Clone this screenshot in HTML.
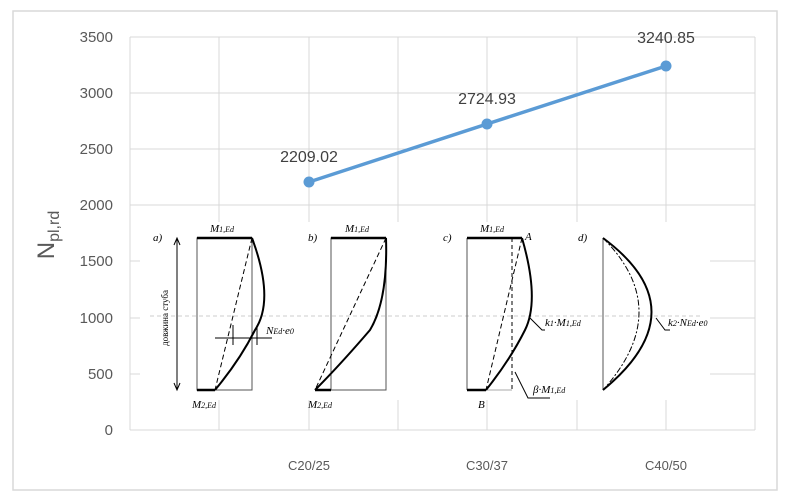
<!DOCTYPE html>
<html><head><meta charset="utf-8"><style>
body{margin:0;background:#fff;}
svg{display:block;font-family:"Liberation Sans",sans-serif;}
.i{font-family:"Liberation Serif",serif;font-style:italic;font-size:11px;fill:#000}
</style></head><body>
<svg width="800" height="500" viewBox="0 0 800 500">
<rect x="13" y="11" width="764" height="479" fill="#fff" stroke="#d9d9d9" stroke-width="1.5"/>
<g stroke="#d9d9d9" stroke-width="1">
<line x1="130" y1="37" x2="755" y2="37"/><line x1="130" y1="93" x2="755" y2="93"/>
<line x1="130" y1="149" x2="755" y2="149"/><line x1="130" y1="205" x2="755" y2="205"/>
<line x1="130" y1="261" x2="755" y2="261"/><line x1="130" y1="318" x2="755" y2="318"/>
<line x1="130" y1="374" x2="755" y2="374"/><line x1="130" y1="430" x2="755" y2="430"/>
<line x1="130" y1="37" x2="130" y2="430"/><line x1="219" y1="37" x2="219" y2="430"/>
<line x1="309" y1="37" x2="309" y2="430"/><line x1="398" y1="37" x2="398" y2="430"/>
<line x1="487" y1="37" x2="487" y2="430"/><line x1="577" y1="37" x2="577" y2="430"/>
<line x1="666" y1="37" x2="666" y2="430"/><line x1="755" y1="37" x2="755" y2="430"/>
</g>
<!-- diagram overlay -->
<rect x="140" y="222" width="570" height="178" fill="#fff"/>
<line x1="150" y1="316" x2="700" y2="316" stroke="#ccc" stroke-dasharray="4,3"/>
<g fill="none" stroke="#000">
<!-- a -->
<rect x="197" y="238" width="55" height="152" stroke-width="1" stroke="#555"/>
<line x1="197" y1="238" x2="252" y2="238" stroke-width="2.5"/>
<line x1="197" y1="390" x2="215" y2="390" stroke-width="2.5"/>
<path d="M252 238 Q275 300 255 330 Q240 360 215 390" stroke-width="2"/>
<line x1="252" y1="238" x2="215" y2="390" stroke-dasharray="5,3"/>
<line x1="177" y1="238" x2="177" y2="390"/>
<path d="M174 245 L177 238 L180 245 M174 383 L177 390 L180 383"/>
<line x1="215" y1="338" x2="272" y2="338"/>
<line x1="233" y1="325" x2="233" y2="345"/><line x1="257" y1="325" x2="257" y2="345"/>
<!-- b -->
<rect x="331" y="238" width="55" height="152" stroke-width="1" stroke="#555"/>
<line x1="331" y1="238" x2="386" y2="238" stroke-width="2.5"/>
<line x1="315" y1="390" x2="331" y2="390" stroke-width="2.5"/>
<path d="M386 238 Q388 300 370 330 Q340 365 315 390" stroke-width="2"/>
<line x1="386" y1="238" x2="315" y2="390" stroke-dasharray="5,3"/>
<!-- c -->
<line x1="467" y1="238" x2="467" y2="390" stroke="#555"/>
<line x1="467" y1="238" x2="522" y2="238" stroke-width="2.5"/>
<line x1="467" y1="390" x2="486" y2="390" stroke-width="2.5"/>
<line x1="486" y1="390" x2="512" y2="390" stroke="#aaa"/>
<line x1="512" y1="238" x2="512" y2="390" stroke-dasharray="4,3"/>
<path d="M522 238 Q540 300 525 330 Q510 360 486 390" stroke-width="2"/>
<line x1="522" y1="238" x2="486" y2="390" stroke-dasharray="5,3"/>
<path d="M530 318 L542 330 L545 330 M515 372 L528 398 L550 398"/>
<!-- d -->
<line x1="603" y1="238" x2="603" y2="390" stroke="#555"/>
<path d="M603 238 Q700 310 603 390" stroke-width="2"/>
<path d="M603 238 Q675 310 603 390" stroke-dasharray="6,2,2,2"/>
<path d="M656 318 L665 330 L670 330"/>
</g>
<text class="i" x="153" y="241">a)</text>
<text class="i" x="210" y="232">M<tspan font-size="8">1,Ed</tspan></text>
<text class="i" x="192" y="408">M<tspan font-size="8">2,Ed</tspan></text>
<text class="i" x="266" y="334">N<tspan font-size="8">Ed</tspan>·e<tspan font-size="8">0</tspan></text>
<text x="0" y="0" font-family="Liberation Serif" font-size="9" transform="translate(168 318) rotate(-90)" text-anchor="middle">довжина стуба</text>
<text class="i" x="308" y="241">b)</text>
<text class="i" x="345" y="232">M<tspan font-size="8">1,Ed</tspan></text>
<text class="i" x="308" y="408">M<tspan font-size="8">2,Ed</tspan></text>
<text class="i" x="443" y="241">c)</text>
<text class="i" x="480" y="232">M<tspan font-size="8">1,Ed</tspan></text>
<text class="i" x="525" y="240">A</text>
<text class="i" x="478" y="408">B</text>
<text class="i" x="545" y="326">k<tspan font-size="8">1</tspan>·M<tspan font-size="8">1,Ed</tspan></text>
<text class="i" x="533" y="393">β·M<tspan font-size="8">1,Ed</tspan></text>
<text class="i" x="578" y="241">d)</text>
<text class="i" x="668" y="326">k<tspan font-size="8">2</tspan>·N<tspan font-size="8">Ed</tspan>·e<tspan font-size="8">0</tspan></text>
<!-- series -->
<polyline points="309,182 487,124 666,66" fill="none" stroke="#5b9bd5" stroke-width="3.5"/>
<circle cx="309" cy="182" r="5.5" fill="#5b9bd5"/><circle cx="487" cy="124" r="5.5" fill="#5b9bd5"/><circle cx="666" cy="66" r="5.5" fill="#5b9bd5"/>
<g font-size="16" fill="#404040" text-anchor="middle">
<text x="309" y="162">2209.02</text><text x="487" y="104">2724.93</text><text x="666" y="43">3240.85</text>
</g>
<g font-size="15" fill="#595959" text-anchor="end">
<text x="113" y="42">3500</text><text x="113" y="98">3000</text><text x="113" y="154">2500</text>
<text x="113" y="210">2000</text><text x="113" y="266">1500</text><text x="113" y="323">1000</text>
<text x="113" y="379">500</text><text x="113" y="435">0</text>
</g>
<g font-size="13" fill="#595959" text-anchor="middle">
<text x="309" y="470">C20/25</text><text x="487" y="470">C30/37</text><text x="666" y="470">C40/50</text>
</g>
<text transform="translate(54 235) rotate(-90)" font-size="24" fill="#595959" text-anchor="middle">N<tspan font-size="16" dy="5">pl,rd</tspan></text>
</svg>
</body></html>
